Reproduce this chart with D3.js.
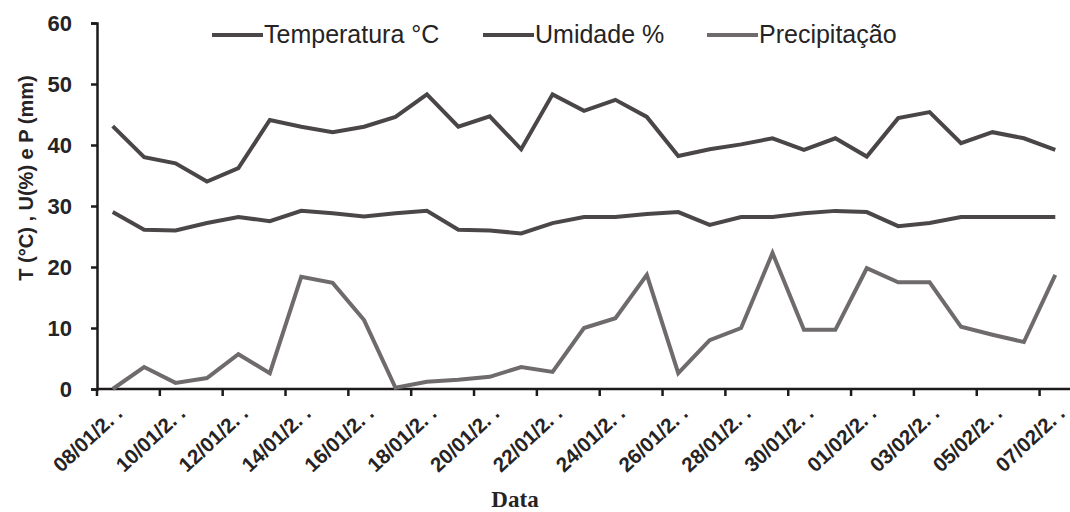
<!DOCTYPE html>
<head>
  <meta charset="utf-8">
  <script src="https://d3js.org/d3.v7.min.js"></script>
  <style>
    body { margin:0; background:#fff; }
    svg { font-family: "Liberation Sans", Arial, sans-serif; }
  </style>
</head>
<body>
<svg width="1070" height="512"></svg>
<script>
  // dias 08/01 .. 07/02
  var dates = ["08/01","09/01","10/01","11/01","12/01","13/01","14/01","15/01","16/01","17/01",
               "18/01","19/01","20/01","21/01","22/01","23/01","24/01","25/01","26/01","27/01",
               "28/01","29/01","30/01","31/01","01/02","02/02","03/02","04/02","05/02","06/02","07/02"];
  var temperatura = [29,26.1,26,27.2,28.2,27.5,29.2,28.8,28.3,28.8,29.2,26.1,26,25.5,27.2,28.2,28.2,28.7,29,26.9,
                     28.2,28.2,28.8,29.2,29,26.7,27.2,28.2,28.2,28.2,28.2];
  var umidade = [43.1,38,37,34,36.2,44.1,43,42.1,43,44.6,48.3,43,44.7,39.3,48.3,45.6,47.4,44.6,38.2,39.3,
                 40.1,41.1,39.2,41.1,38.1,44.4,45.4,40.3,42.1,41.1,39.2];
  var precipitacao = [0,3.6,1,1.8,5.7,2.6,18.4,17.4,11.3,0.2,1.2,1.5,2,3.6,2.8,10,11.6,18.7,2.6,8,
                      10,22.3,9.7,9.7,19.8,17.5,17.5,10.2,8.9,7.7,18.7];
  var yTicks = [0,10,20,30,40,50,60];
  var seriesNames = ["Temperatura °C","Umidade %","Precipitação"];
  var seriesColors = ["#4b4749","#4a4547","#6f6b6d"];

  var svg = d3.select("svg");
  var mLeft = 97, mRight = 1071, mTop = 23, mBottom = 389;

  var x = d3.scaleBand().domain(dates).range([mLeft, mRight]).paddingInner(0).paddingOuter(0);
  var y = d3.scaleLinear().domain([0, 60]).range([mBottom, mTop]);
  var cx = function(d, i) { return x(dates[i]) + x.bandwidth() / 2; };

  // y axis
  var yAxis = svg.append("g")
      .attr("transform", "translate(" + mLeft + ",0)")
      .call(d3.axisLeft(y).tickValues(yTicks).tickSize(6).tickPadding(19));
  yAxis.select(".domain").attr("stroke", "#1c1a1b").attr("stroke-width", 2.5);
  yAxis.selectAll(".tick line").attr("stroke", "#1c1a1b").attr("stroke-width", 2.5);
  yAxis.selectAll(".tick text")
      .attr("fill", "#262324")
      .attr("font-size", 22)
      .attr("font-weight", "bold")
      .attr("font-family", "Liberation Sans, Arial, sans-serif");

  // x axis
  var xg = svg.append("g");
  xg.append("line")
      .attr("x1", mLeft).attr("x2", mRight)
      .attr("y1", mBottom).attr("y2", mBottom)
      .attr("stroke", "#1c1a1b").attr("stroke-width", 2.5);
  xg.selectAll("line.tk")
      .data(dates.filter(function(d, i) { return i % 2 == 0; }))
      .enter().append("line")
      .attr("class", "tk")
      .attr("x1", function(d) { return x(d); })
      .attr("x2", function(d) { return x(d); })
      .attr("y1", mBottom).attr("y2", mBottom + 7)
      .attr("stroke", "#1c1a1b").attr("stroke-width", 2.5);
  xg.selectAll("text")
      .data(dates.filter(function(d, i) { return i % 2 == 0; }))
      .enter().append("text")
      .attr("transform", function(d) {
        return "translate(" + (x(d) + x.bandwidth() / 2 + 11) + "," + (mBottom + 26) + ") rotate(-43)";
      })
      .attr("text-anchor", "end")
      .attr("font-size", 20.5)
      .attr("font-weight", "bold")
      .attr("fill", "#262324")
      .text(function(d) { return d + "/2. ."; });

  // titles
  svg.append("text")
      .attr("transform", "translate(33,178) rotate(-90)")
      .attr("text-anchor", "middle")
      .attr("font-size", 20)
      .attr("font-weight", "bold")
      .attr("fill", "#262324")
      .text("T (°C) , U(%) e P (mm)");
  svg.append("text")
      .attr("x", 515).attr("y", 507)
      .attr("text-anchor", "middle")
      .attr("font-family", "Liberation Serif, Times New Roman, serif")
      .attr("font-size", 23)
      .attr("font-weight", "bold")
      .attr("fill", "#262324")
      .text("Data");

  // lines
  var line = d3.line()
      .x(function(d, i) { return cx(d, i); })
      .y(function(d) { return y(d); });
  var series = [temperatura, umidade, precipitacao];
  svg.selectAll("path.serie")
      .data(series)
      .enter().append("path")
      .attr("class", "serie")
      .attr("d", line)
      .attr("fill", "none")
      .attr("stroke", function(d, i) { return seriesColors[i]; })
      .attr("stroke-width", 4)
      .attr("stroke-linejoin", "miter");

  // legend
  var legX = [212, 483, 707];
  var leg = svg.selectAll("g.leg")
      .data(seriesNames)
      .enter().append("g")
      .attr("class", "leg")
      .attr("transform", function(d, i) { return "translate(" + legX[i] + ",35)"; });
  leg.append("line")
      .attr("x1", 0).attr("x2", 51)
      .attr("stroke", function(d, i) { return seriesColors[i]; })
      .attr("stroke-width", 4);
  leg.append("text")
      .attr("x", 52).attr("y", 8)
      .attr("font-size", 25)
      .attr("fill", "#262324")
      .text(function(d) { return d; });
</script>
</body>
